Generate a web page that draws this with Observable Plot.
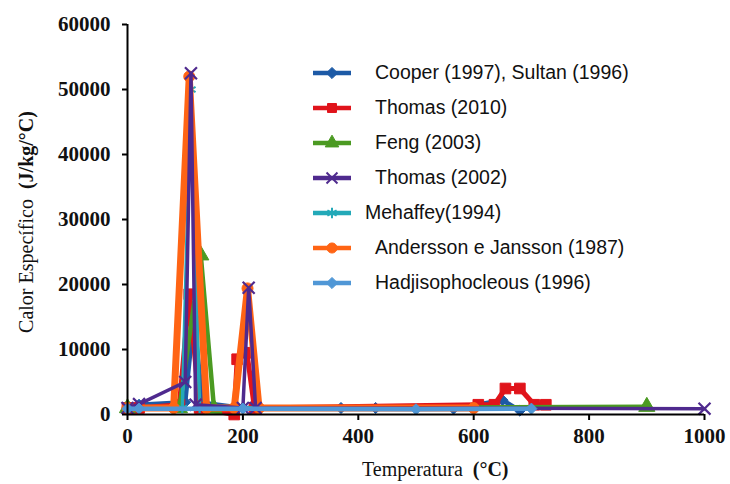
<!DOCTYPE html>
<html>
<head>
<meta charset="utf-8">
<script src="https://cdn.jsdelivr.net/npm/d3@7"></script>
<script src="https://cdn.jsdelivr.net/npm/@observablehq/plot@0.6"></script>
<style>
  html, body { margin: 0; padding: 0; background: #fff; }
  #wrap { position: relative; width: 730px; height: 484px; overflow: hidden; }
  .lg { position: absolute; font-family: "Liberation Sans", Arial, sans-serif; font-size: 19.5px; color: #111; white-space: nowrap; line-height: 1; }
  .ttl { position: absolute; font-family: "Liberation Serif", "Times New Roman", serif; font-size: 20px; color: #111; white-space: nowrap; line-height: 1; }
  .ttl b { font-weight: bold; }
</style>
</head>
<body>
<div id="wrap"></div>
<script>
// ---- data (Temperatura °C, Calor específico J/kg/°C) ----
const seriesNames = [
  "Cooper (1997), Sultan (1996)",
  "Thomas (2010)",
  "Feng (2003)",
  "Thomas (2002)",
  "Mehaffey(1994)",
  "Andersson e Jansson (1987)",
  "Hadjisophocleous (1996)"
];
const cooper = [[0,1000],[20,1500],[100,1900],[115,15000],[130,1800],[200,1000],[370,1000],[430,1000],[565,900],[650,2200],[680,600]];
const thomas2010 = [[0,1000],[20,1000],[90,1500],[107,18500],[125,1000],[185,0],[190,8500],[207,9500],[220,1000],[608,1500],[636,1500],[655,4000],[680,4000],[705,1500],[725,1500]];
const feng = [[0,1000],[90,1000],[127,24500],[150,900],[900,1200]];
const thomas2002 = [[0,1000],[20,1600],[100,5000],[110,52500],[118,1500],[200,1000],[210,19500],[222,1000],[1000,900]];
const mehaffey = [[0,1000],[95,1000],[110,50000],[125,1000],[600,1000]];
const andersson = [[0,1000],[80,1000],[107,52000],[137,1000],[185,1000],[208,19400],[228,1000],[600,1000]];
const hadji = [[0,900],[20,900],[200,900],[500,800],[700,900]];
const xTicks = [0,200,400,600,800,1000];
const yTicks = [0,10000,20000,30000,40000,50000,60000];

const colors = ["#1d5aa6","#e0141b","#4b9a22","#4f2a8e","#23a9b8","#ff6414","#5097d6"];
const symbols = ["diamond2","square","triangle","times","asterisk","circle","diamond2"];
const widths = [4.5,5,4.5,3.5,3.5,7,4.5];
const radii = [5,6,6,5.5,5,5.5,5];
const allData = [cooper, thomas2010, feng, thomas2002, mehaffey, andersson, hadji];
const drawOrder = [0,1,2,4,5,3,6];

const marks = [];
for (const i of drawOrder) {
  const d = allData[i];
  const strokeSym = symbols[i] === "times" || symbols[i] === "asterisk";
  marks.push(Plot.line(d, {x: d => d[0], y: d => d[1], stroke: colors[i], strokeWidth: widths[i], strokeLinejoin: "round"}));
  marks.push(Plot.dot(d, {x: d => d[0], y: d => d[1], symbol: symbols[i], r: radii[i],
    fill: strokeSym ? "none" : colors[i], stroke: colors[i], strokeWidth: strokeSym ? 2.2 : 1}));
}

const chart = Plot.plot({
  width: 730, height: 484,
  marginLeft: 127, marginRight: 26, marginTop: 24, marginBottom: 70,
  x: {domain: [0, 1000]},
  y: {domain: [0, 60000]},
  style: {background: "transparent", overflow: "visible"},
  marks: [
    ...marks,
    Plot.ruleX([0], {stroke: "#000", strokeWidth: 2}),
    Plot.ruleY([0], {stroke: "#000", strokeWidth: 2}),
    Plot.axisX({ticks: xTicks, tickSize: 6, tickPadding: 8, strokeWidth: 2, label: null,
      tickFormat: d3.format("d"), fontSize: 21, fontWeight: "bold", fontFamily: "Liberation Serif, serif", fill: "#111"}),
    Plot.axisY({ticks: yTicks, tickSize: 5, tickPadding: 12, strokeWidth: 2, label: null,
      tickFormat: d3.format("d"), fontSize: 21, fontWeight: "bold", fontFamily: "Liberation Serif, serif", fill: "#111"})
  ]
});
const wrap = document.getElementById("wrap");
wrap.appendChild(chart);

// ---- legend ----
const rowY = [73,108,143,178,213,248,283];
const textX = [375,375,375,375,365,375,375];
const lsvg = d3.select(wrap).append("svg").attr("width",730).attr("height",484)
  .style("position","absolute").style("left","0px").style("top","0px");
const symMap = {diamond2: d3.symbolDiamond2, square: d3.symbolSquare, triangle: d3.symbolTriangle, times: d3.symbolTimes, asterisk: d3.symbolAsterisk, circle: d3.symbolCircle};
seriesNames.forEach((name, i) => {
  const g = lsvg.append("g").attr("transform", `translate(332,${rowY[i]})`);
  g.append("line").attr("x1",-19).attr("x2",19).attr("stroke",colors[i]).attr("stroke-width",4.5);
  const strokeSym = symbols[i] === "times" || symbols[i] === "asterisk";
  g.append("path").attr("d", d3.symbol(symMap[symbols[i]], 80)())
    .attr("fill", strokeSym ? "none" : colors[i]).attr("stroke", colors[i]).attr("stroke-width", strokeSym ? 2 : 1);
  const t = document.createElement("div");
  t.className = "lg"; t.textContent = name;
  t.style.left = textX[i] + "px"; t.style.top = (rowY[i] - 10) + "px";
  wrap.appendChild(t);
});

// ---- axis titles ----
const xt = document.createElement("div");
xt.className = "ttl"; xt.innerHTML = "Temperatura&nbsp; <b>(°C)</b>";
xt.style.left = "362px"; xt.style.top = "459px";
wrap.appendChild(xt);
const yt = document.createElement("div");
yt.className = "ttl"; yt.innerHTML = "Calor Específico&nbsp; <b>(J/kg/°C)</b>";
yt.style.left = "26px"; yt.style.top = "222px";
yt.style.transform = "translate(-50%,-50%) rotate(-90deg)";
wrap.appendChild(yt);
</script>
</body>
</html>
